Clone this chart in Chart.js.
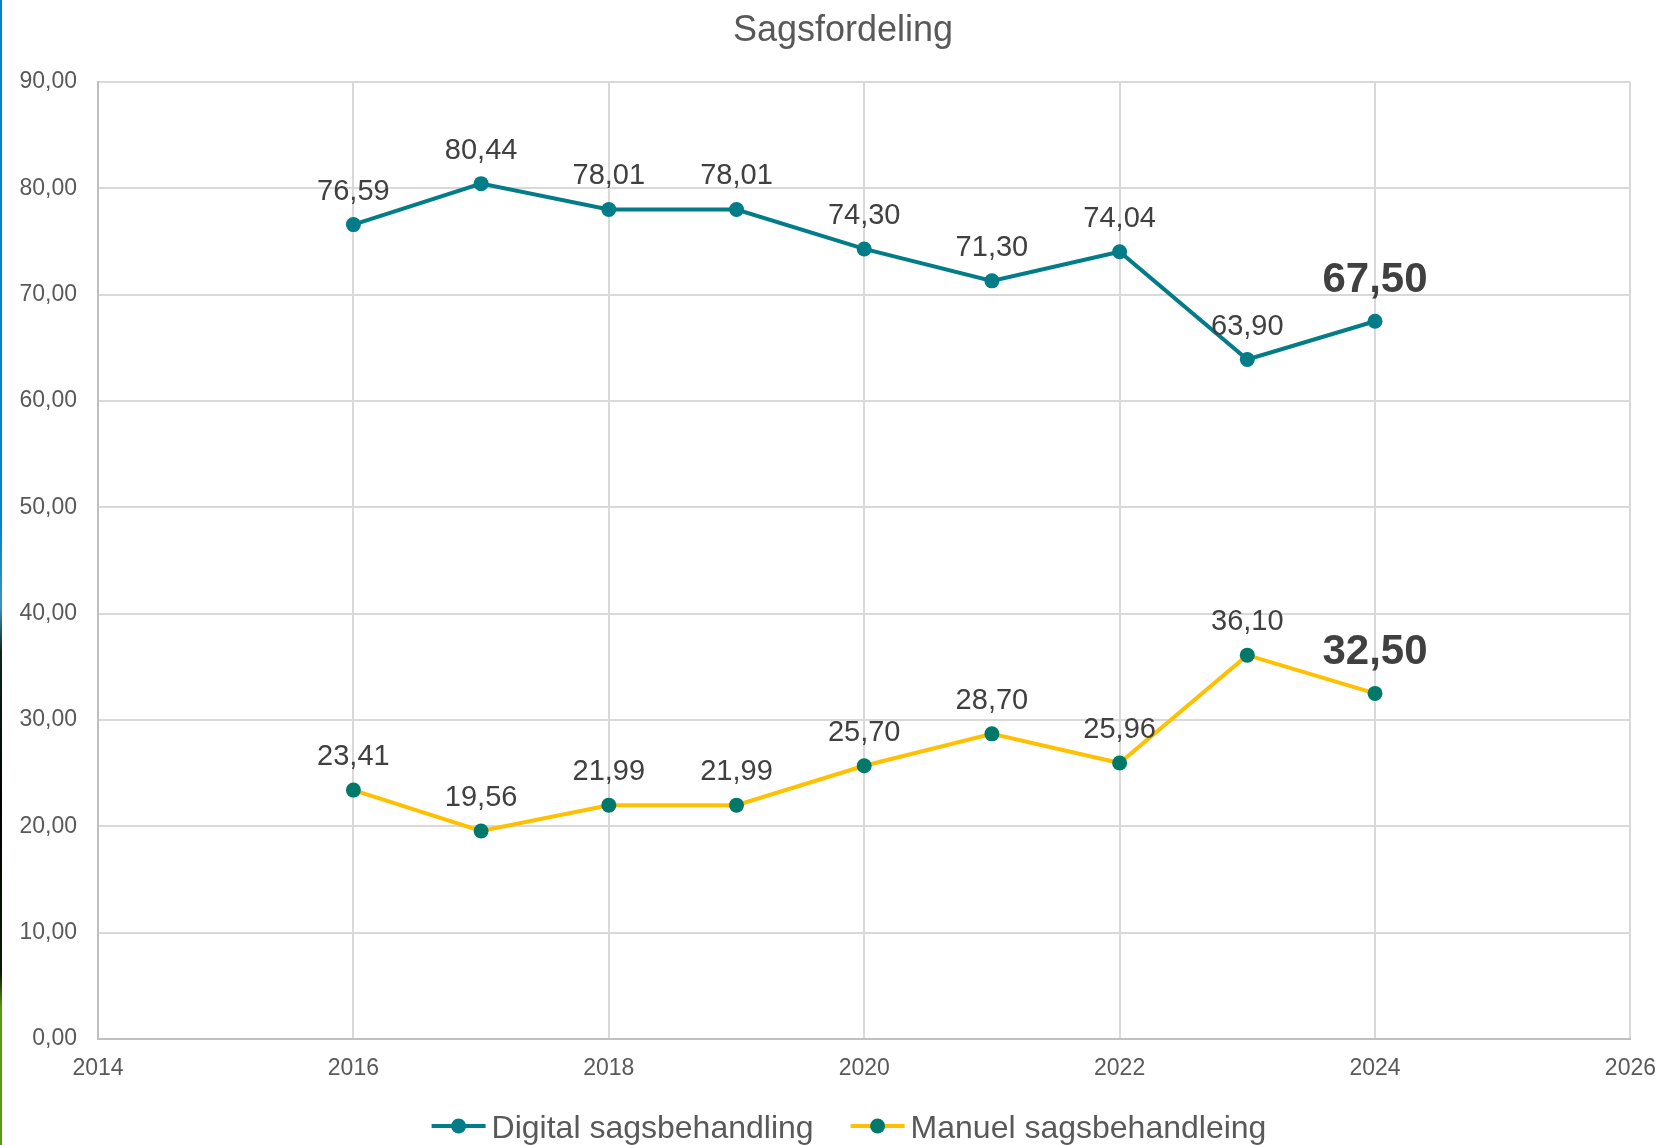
<!DOCTYPE html>
<html>
<head>
<meta charset="utf-8">
<script src="https://cdn.jsdelivr.net/npm/chart.js@4"></script>
<style>
html,body{margin:0;padding:0;background:#fff;}
#wrap{position:relative;width:1661px;height:1145px;overflow:hidden;}
#c{position:absolute;left:0;top:0;}
#edge{position:absolute;left:0;top:0;width:2px;height:1145px;
background:linear-gradient(to bottom,#0086C8 0%,#0086C8 46%,#3a94bd 53%,#0c2418 57%,#000 70%,#0a1a06 85%,#5a9a12 88%,#5a9a12 100%);}
</style>
</head>
<body>
<div id="wrap"><canvas id="c" width="1661" height="1145"></canvas><div id="edge"></div></div>
<script>
// ---- data ----
const chartTitle = 'Sagsfordeling';
const years = [2016, 2017, 2018, 2019, 2020, 2021, 2022, 2023, 2024];
const digital = [76.59, 80.44, 78.01, 78.01, 74.30, 71.30, 74.04, 63.90, 67.50];
const manual = [23.41, 19.56, 21.99, 21.99, 25.70, 28.70, 25.96, 36.10, 32.50];
const seriesNames = ['Digital sagsbehandling', 'Manuel sagsbehandleing'];
const xRange = [2014, 2026];
const xStep = 2;
const yRange = [0, 90];
const yStep = 10;

const FONT = '"Liberation Sans", Arial, sans-serif';
const fmt = v => v.toFixed(2).replace('.', ',');

const colDigital = '#027C87';
const colManualLine = '#FFC000';
const colManualPt = '#00796B';

const valueLabels = {
  id: 'valueLabels',
  afterDatasetsDraw(chart) {
    const ctx = chart.ctx;
    chart.data.datasets.forEach((ds, di) => {
      const meta = chart.getDatasetMeta(di);
      meta.data.forEach((pt, i) => {
        const last = i === meta.data.length - 1;
        ctx.save();
        ctx.font = (last ? 'bold 42px ' : '29px ') + FONT;
        ctx.fillStyle = '#404040';
        ctx.textAlign = 'center';
        ctx.textBaseline = 'middle';
        ctx.fillText(fmt(ds.data[i].y), pt.x, pt.y - (last ? 41 : 33));
        ctx.restore();
      });
    });
  }
};

const customLegend = {
  id: 'customLegend',
  afterDraw(chart) {
    const ctx = chart.ctx;
    const lineLen = 54, gapText = 6, gapItems = 37, cy = 1126, fontSize = 32;
    ctx.save();
    ctx.font = fontSize + 'px ' + FONT;
    const items = chart.data.datasets.map(ds => ({ds, w: ctx.measureText(ds.label).width}));
    let total = 0;
    items.forEach((it, i) => { total += lineLen + gapText + it.w + (i ? gapItems : 0); });
    let x = 849 - total / 2;
    items.forEach(it => {
      ctx.strokeStyle = it.ds.borderColor;
      ctx.lineWidth = 4;
      ctx.beginPath();
      ctx.moveTo(x, cy);
      ctx.lineTo(x + lineLen, cy);
      ctx.stroke();
      ctx.fillStyle = it.ds.pointBackgroundColor;
      ctx.beginPath();
      ctx.arc(x + lineLen / 2, cy, 7.5, 0, Math.PI * 2);
      ctx.fill();
      ctx.fillStyle = '#595959';
      ctx.textAlign = 'left';
      ctx.textBaseline = 'alphabetic';
      ctx.fillText(it.ds.label, x + lineLen + gapText, cy + 11.5);
      x += lineLen + gapText + it.w + gapItems;
    });
    ctx.restore();
  }
};

const toPoints = arr => years.map((y, i) => ({x: y, y: arr[i]}));

new Chart(document.getElementById('c'), {
  type: 'line',
  data: {
    datasets: [
      {
        label: seriesNames[0],
        data: toPoints(digital),
        borderColor: colDigital,
        backgroundColor: colDigital,
        pointBackgroundColor: colDigital,
        pointBorderColor: colDigital,
        pointRadius: 7.5,
        pointBorderWidth: 0,
        borderWidth: 4,
        tension: 0
      },
      {
        label: seriesNames[1],
        data: toPoints(manual),
        borderColor: colManualLine,
        backgroundColor: colManualLine,
        pointBackgroundColor: colManualPt,
        pointBorderColor: colManualPt,
        pointRadius: 7.5,
        pointBorderWidth: 0,
        borderWidth: 4,
        tension: 0
      }
    ]
  },
  options: {
    responsive: false,
    animation: false,
    devicePixelRatio: 1,
    layout: {padding: {left: 45, right: 20, top: 0, bottom: 60}},
    plugins: {
      title: {
        display: true,
        text: chartTitle,
        color: '#595959',
        font: {family: FONT, size: 36, weight: 'normal'},
        padding: {top: 9, bottom: 29.8}
      },
      legend: {display: false},
      tooltip: {enabled: false}
    },
    scales: {
      x: {
        type: 'linear',
        min: xRange[0],
        max: xRange[1],
        afterFit: s => { s.height = 46; },
        ticks: {
          stepSize: xStep,
          callback: v => String(v),
          color: '#595959',
          font: {family: FONT, size: 23, lineHeight: 2.17},
          padding: 5,
          maxRotation: 0,
          autoSkip: false
        },
        grid: {color: '#D9D9D9', lineWidth: 2, drawTicks: false},
        border: {color: '#BFBFBF', width: 2}
      },
      y: {
        min: yRange[0],
        max: yRange[1],
        afterFit: s => { s.width = 53; s._computeLabelArea = () => undefined; },
        ticks: {
          stepSize: yStep,
          callback: v => fmt(v),
          color: '#595959',
          font: {family: FONT, size: 23},
          padding: 21
        },
        grid: {color: '#D9D9D9', lineWidth: 2, drawTicks: false},
        border: {color: '#BFBFBF', width: 2}
      }
    }
  },
  plugins: [valueLabels, customLegend]
});
</script>
</body>
</html>
